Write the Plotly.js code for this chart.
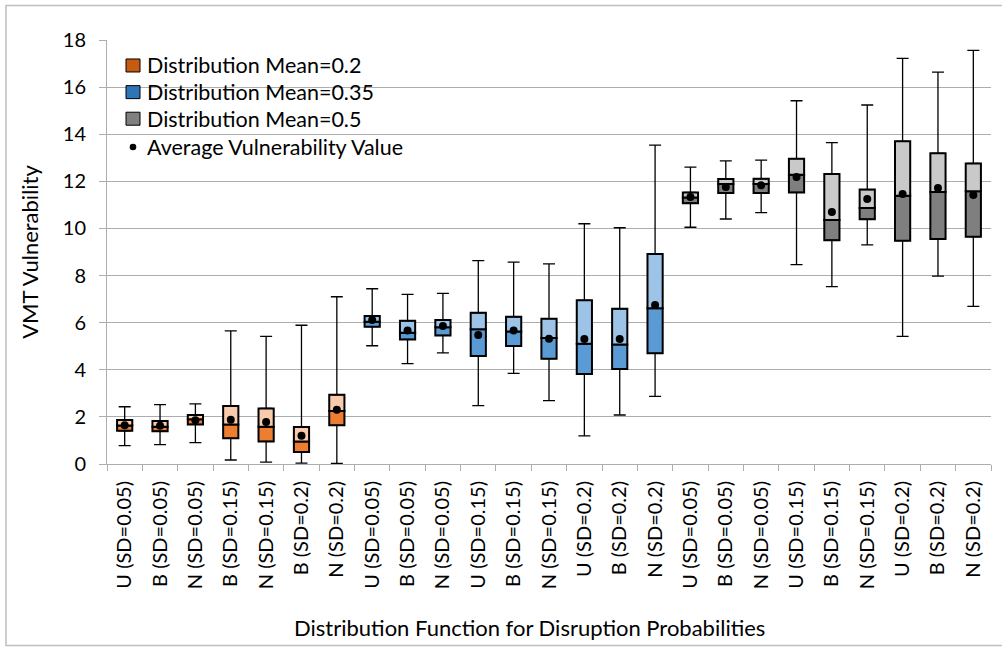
<!DOCTYPE html>
<html><head><meta charset="utf-8">
<script src="https://cdn.plot.ly/plotly-3.0.1.min.js"></script>
<style>html,body{margin:0;padding:0;background:#fff}#chart{width:1002px;height:647px}</style>
</head><body><div id="chart"></div>
<script>
// ---- data ----
const categories = [
  'U (SD=0.05)','B (SD=0.05)','N (SD=0.05)','B (SD=0.15)','N (SD=0.15)','B (SD=0.2)','N (SD=0.2)',
  'U (SD=0.05)','B (SD=0.05)','N (SD=0.05)','U (SD=0.15)','B (SD=0.15)','N (SD=0.15)','U (SD=0.2)','B (SD=0.2)','N (SD=0.2)',
  'U (SD=0.05)','B (SD=0.05)','N (SD=0.05)','U (SD=0.15)','B (SD=0.15)','N (SD=0.15)','U (SD=0.2)','B (SD=0.2)','N (SD=0.2)'
];
const groupOf = [0,0,0,0,0,0,0, 1,1,1,1,1,1,1,1,1, 2,2,2,2,2,2,2,2,2];
const groupNames = ['Distribution Mean=0.2','Distribution Mean=0.35','Distribution Mean=0.5'];
const meanName = 'Average Vulnerability Value';

const lowerWhisker = [0.78,0.82,0.91,0.17,0.08,0.04,0.03, 5.02,4.26,4.72,2.48,3.85,2.69,1.19,2.08,2.87, 10.05,10.40,10.67,8.46,7.53,9.30,5.42,7.98,6.69];
const q1           = [1.41,1.39,1.68,1.09,0.96,0.51,1.64, 5.83,5.29,5.46,4.58,5.01,4.47,3.82,4.03,4.70, 11.07,11.50,11.50,11.53,9.50,10.39,9.48,9.55,9.65];
const median       = [1.63,1.58,1.90,1.68,1.58,0.95,2.25, 6.04,5.57,5.81,5.72,5.62,5.35,5.11,5.07,6.61, 11.31,11.89,11.89,12.28,10.36,10.87,11.39,11.55,11.58];
const q3           = [1.87,1.83,2.08,2.46,2.36,1.57,2.94, 6.28,6.08,6.11,6.42,6.25,6.17,6.95,6.59,8.91, 11.53,12.10,12.11,12.96,12.31,11.65,13.70,13.19,12.76];
const upperWhisker = [2.43,2.52,2.55,5.65,5.42,5.89,7.10, 7.44,7.20,7.24,8.63,8.57,8.50,10.20,10.03,13.54, 12.60,12.87,12.90,15.42,13.64,15.24,17.22,16.64,17.56];
const average      = [1.65,1.62,1.86,1.88,1.78,1.20,2.30, 6.11,5.67,5.86,5.48,5.67,5.32,5.31,5.31,6.75, 11.33,11.76,11.83,12.18,10.70,11.25,11.46,11.72,11.42];

// ---- styles ----
const darkColors  = ['#ED7D31','#5B9BD5','#7F7F7F'];
const lightColors = ['#F8CBAD','#9DC3E6','#C9C9C9'];
const legendColors = ['#C55A11','#2E75B6','#808080'];
const FONT = 'Lato, "Open Sans", sans-serif';
const boxWidth = 0.43;

const idx = categories.map((_, i) => i);
const traces = [];

for (let g = 0; g < 3; g++) {
  const xs = idx.filter(i => groupOf[i] === g);
  traces.push({ // lower part of box: Q1 -> median
    type: 'bar', x: xs, base: xs.map(i => q1[i]), y: xs.map(i => median[i] - q1[i]),
    width: boxWidth, marker: {color: darkColors[g], line: {color: '#000', width: 2}},
    name: groupNames[g], showlegend: false, hoverinfo: 'skip'
  });
  traces.push({ // upper part of box: median -> Q3
    type: 'bar', x: xs, base: xs.map(i => median[i]), y: xs.map(i => q3[i] - median[i]),
    width: boxWidth, marker: {color: lightColors[g], line: {color: '#000', width: 2}},
    name: groupNames[g], showlegend: false, hoverinfo: 'skip'
  });
}
// whiskers
traces.push({
  type: 'scatter', mode: 'markers', x: idx, y: q3, marker: {size: 0.1, color: 'rgba(0,0,0,0)'},
  error_y: {type: 'data', symmetric: false, array: idx.map(i => upperWhisker[i] - q3[i]), arrayminus: idx.map(() => 0),
            color: '#000', thickness: 1.3, width: 6},
  showlegend: false, hoverinfo: 'skip'
});
traces.push({
  type: 'scatter', mode: 'markers', x: idx, y: q1, marker: {size: 0.1, color: 'rgba(0,0,0,0)'},
  error_y: {type: 'data', symmetric: false, array: idx.map(() => 0), arrayminus: idx.map(i => q1[i] - lowerWhisker[i]),
            color: '#000', thickness: 1.3, width: 6},
  showlegend: false, hoverinfo: 'skip'
});
// averages
traces.push({
  type: 'scatter', mode: 'markers', x: idx, y: average, name: meanName,
  marker: {size: 8, color: '#000'}, showlegend: false
});

// ---- legend drawn as paper-anchored shapes + text ----
const W = 884, H = 424.5, L = 107, B = 464;
const px = v => (v - L) / W;
const py = v => (B - v) / H;
const legendRows = [65, 91.7, 118.3, 146.7];
const legendFont = {family: FONT, size: 21.5, color: '#000'};
const shapes = [{
  type: 'rect', xref: 'paper', yref: 'paper', x0: px(6), x1: 1.2, y0: py(645.7), y1: py(5),
  line: {color: '#BFBFBF', width: 1.5}, fillcolor: 'rgba(0,0,0,0)', layer: 'above'
}];
const annotations = [];
const legendLabels = groupNames.concat([meanName]);
legendLabels.forEach((lab, k) => {
  const yc = py(legendRows[k]);
  if (k < 3) {
    shapes.push({type: 'rect', xref: 'paper', yref: 'paper', xsizemode: 'pixel', ysizemode: 'pixel',
      xanchor: px(133), yanchor: yc, x0: -7, x1: 7, y0: -6.5, y1: 6.5,
      fillcolor: legendColors[k], line: {color: '#000', width: 1}, layer: 'above'});
  } else {
    shapes.push({type: 'circle', xref: 'paper', yref: 'paper', xsizemode: 'pixel', ysizemode: 'pixel',
      xanchor: px(133), yanchor: yc, x0: -3.3, x1: 3.3, y0: -3.3, y1: 3.3,
      fillcolor: '#000', line: {color: '#000', width: 0}, layer: 'above'});
  }
  annotations.push({text: lab, xref: 'paper', yref: 'paper', x: px(145), y: yc,
    xanchor: 'left', yanchor: 'middle', showarrow: false, font: legendFont});
});
annotations.push({
  text: 'Distribution Function for Disruption Probabilities', xref: 'paper', yref: 'paper',
  x: px(529.5), y: py(628), xanchor: 'center', yanchor: 'middle', showarrow: false,
  font: {family: FONT, size: 22, color: '#000'}
});

const gridColor = '#ADADAD';
const layout = {
  width: 1002, height: 647,
  margin: {l: 107, r: 11, t: 39.5, b: 183},
  paper_bgcolor: '#fff', plot_bgcolor: '#fff',
  barmode: 'overlay',
  font: {family: FONT, size: 20, color: '#000'},
  showlegend: false,
  xaxis: {
    range: [-0.5, 24.5], tickmode: 'array', tickvals: idx, ticktext: categories,
    tickangle: -90, ticks: '', showgrid: false, zeroline: false,
    showline: true, linecolor: gridColor, linewidth: 1,
    tickfont: {family: FONT, size: 20, color: '#000'}, ticklabelstandoff: 8,
    minor: {tickmode: 'array', tickvals: idx.map(i => i - 0.5).concat([24.5]), ticks: 'outside', ticklen: 6, tickcolor: gridColor, showgrid: false}
  },
  yaxis: {
    range: [0, 18], dtick: 2, tick0: 0, ticks: 'outside', ticklen: 7, tickcolor: gridColor,
    showgrid: true, gridcolor: gridColor, gridwidth: 1, zeroline: false,
    showline: true, linecolor: gridColor, linewidth: 1,
    tickfont: {family: FONT, size: 20, color: '#000'}, ticklabelstandoff: 9,
    title: {text: 'VMT Vulnerability', font: {family: FONT, size: 22, color: '#000'}, standoff: 18}
  },
  annotations: annotations,
  shapes: shapes
};

Plotly.newPlot('chart', traces, layout, {displayModeBar: false, staticPlot: true});
</script>
</body></html>
